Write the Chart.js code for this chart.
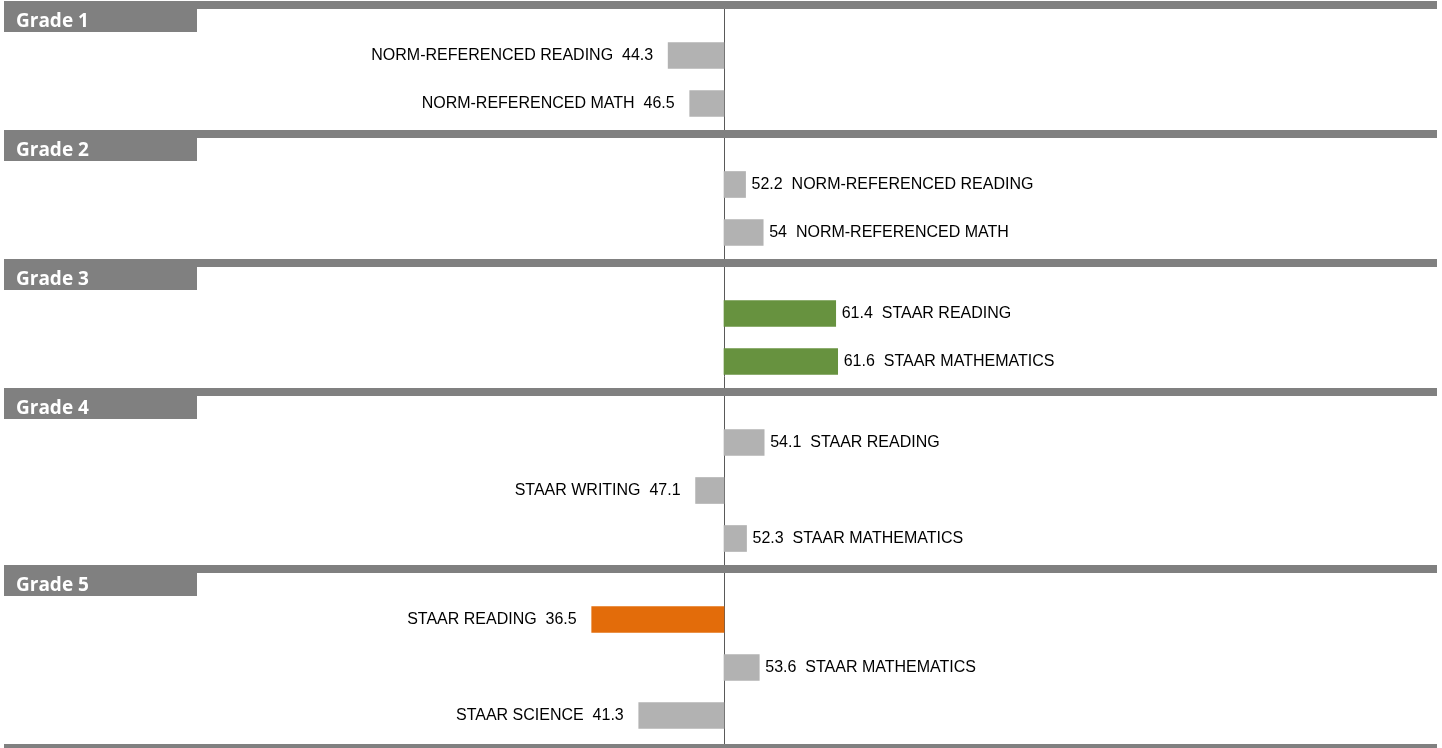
<!DOCTYPE html>
<html>
<head>
<meta charset="utf-8">
<script src="https://cdn.jsdelivr.net/npm/chart.js@4/dist/chart.umd.min.js"></script>
<style>
  html, body { margin: 0; padding: 0; background: #fff; }
  #wrap { width: 1442px; height: 748px; position: relative; }
</style>
</head>
<body>
<div id="wrap"><canvas id="gapChart"></canvas></div>
<script>
// Data
const grades = ['Grade 1', 'Grade 2', 'Grade 3', 'Grade 4', 'Grade 5'];
const rowsPerGrade = [2, 2, 2, 3, 3];
const subjects = [
    'NORM-REFERENCED READING', 'NORM-REFERENCED MATH',
    'NORM-REFERENCED READING', 'NORM-REFERENCED MATH',
    'STAAR READING', 'STAAR MATHEMATICS',
    'STAAR READING', 'STAAR WRITING', 'STAAR MATHEMATICS',
    'STAAR READING', 'STAAR MATHEMATICS', 'STAAR SCIENCE'
];
const scores = [44.3, 46.5, 52.2, 54, 61.4, 61.6, 54.1, 47.1, 52.3, 36.5, 53.6, 41.3];
const baseline = 50;

// colours
const GRAY_BAR = '#b2b2b2';
const GREEN_BAR = '#67923f';
const ORANGE_BAR = '#e36c0a';
const HEADER_GRAY = '#808080';

function barColor(v) {
    if (v >= 60) return GREEN_BAR;
    if (v < 40) return ORANGE_BAR;
    return GRAY_BAR;
}

// vertical layout (pixels on the y scale)
const headerTops = [];
const rowPos = [];
let cursor = 1;
rowsPerGrade.forEach(n => {
    headerTops.push(cursor);
    for (let i = 0; i < n; i++) rowPos.push(cursor + 54.5 + 48 * i);
    cursor += 33 + 48 * n;
});

// horizontal scale: baseline at x=724, ~9.8px per point
const pxPerPoint = 9.8;
const xMin = baseline - 724 / pxPerPoint;
const xMax = xMin + 1442 / pxPerPoint;

const barData = scores.map((v, i) => ({ x: [baseline, v], y: rowPos[i] }));

// axis line + header bands
const layoutPlugin = {
    id: 'layoutPlugin',
    beforeDatasetsDraw(chart) {
        const ctx = chart.ctx;
        const x0 = Math.round(chart.scales.x.getPixelForValue(baseline)) + 0.5;
        ctx.save();
        ctx.strokeStyle = '#595959';
        ctx.lineWidth = 1;
        ctx.beginPath();
        ctx.moveTo(x0, 9);
        ctx.lineTo(x0, 744);
        ctx.stroke();
        ctx.restore();
    },
    afterDatasetsDraw(chart) {
        const ctx = chart.ctx;
        const xs = chart.scales.x;
        ctx.save();

        // header bands
        headerTops.forEach((top, g) => {
            ctx.fillStyle = HEADER_GRAY;
            ctx.fillRect(4, top, 1433, 8);
            ctx.fillRect(4, top, 193, 31);
            ctx.fillStyle = '#ffffff';
            ctx.font = 'bold 19px "Open Sans", "DejaVu Sans", sans-serif';
            ctx.textAlign = 'left';
            ctx.textBaseline = 'alphabetic';
            ctx.fillText(grades[g], 16, top + 25.5);
        });
        ctx.fillStyle = HEADER_GRAY;
        ctx.fillRect(4, 744, 1433, 4);

        // bar labels
        ctx.fillStyle = '#000000';
        ctx.font = '16px "Liberation Sans", Arial, sans-serif';
        ctx.textBaseline = 'middle';
        const meta = chart.getDatasetMeta(0);
        meta.data.forEach((el, i) => {
            const v = scores[i];
            const px = xs.getPixelForValue(v);
            if (v < baseline) {
                ctx.textAlign = 'right';
                ctx.fillText(subjects[i] + '  ' + v, px - 15, el.y);
            } else {
                ctx.textAlign = 'left';
                ctx.fillText(v + '  ' + subjects[i], px + 6, el.y);
            }
        });
        ctx.restore();
    }
};

const ctx = document.getElementById('gapChart').getContext('2d');
new Chart(ctx, {
    type: 'bar',
    data: {
        datasets: [{
            data: barData,
            backgroundColor: scores.map(barColor),
            borderWidth: 0,
            barThickness: 26
        }]
    },
    options: {
        indexAxis: 'y',
        responsive: true,
        maintainAspectRatio: false,
        animation: false,
        layout: { padding: 0 },
        plugins: {
            legend: { display: false },
            tooltip: { enabled: false }
        },
        scales: {
            x: { type: 'linear', min: xMin, max: xMax, display: false, offset: false },
            y: { type: 'linear', min: 0, max: 748, reverse: true, display: false, offset: false }
        }
    },
    plugins: [layoutPlugin]
});
</script>
</body>
</html>
